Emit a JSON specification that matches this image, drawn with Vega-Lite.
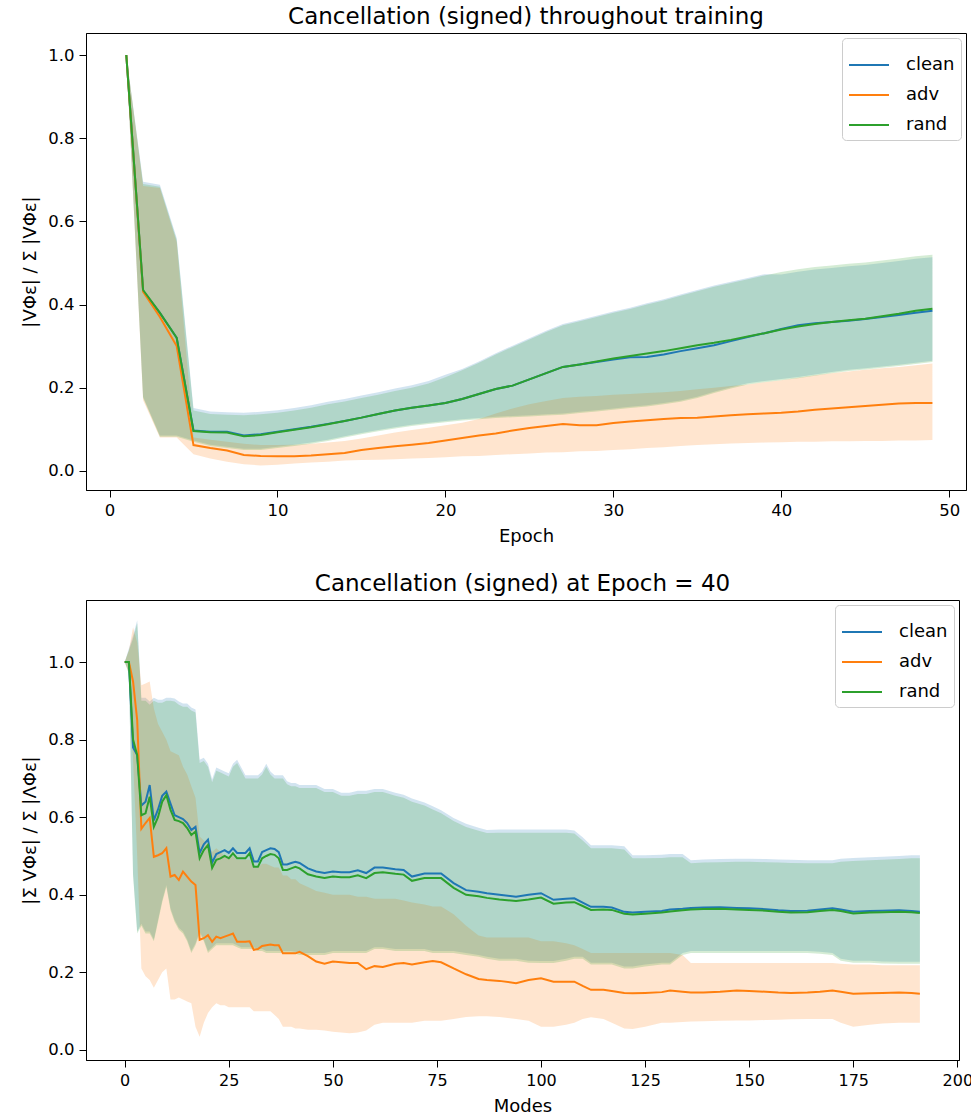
{
"$schema": "https://vega.github.io/schema/vega-lite/v6.json",
"background": "white",
"padding": {"left": 21, "top": 5, "right": 0, "bottom": 2},
"config": {
  "font": "DejaVu Sans",
  "view": {"stroke": "#000", "strokeWidth": 1},
  "axis": {"grid": false, "domainColor": "#000", "tickColor": "#000", "labelColor": "#000", "titleColor": "#000", "labelFontSize": 16.5, "titleFontSize": 18, "titleFontWeight": "normal", "tickSize": 7, "labelPadding": 5, "titlePadding": 8, "labelFont": "DejaVu Sans", "titleFont": "DejaVu Sans"},
  "axisX": {"titlePadding": 9},
  "title": {"fontSize": 23, "fontWeight": "normal", "color": "#000", "font": "DejaVu Sans", "offset": 4, "anchor": "middle", "frame": "group"},
  "legend": {"orient": "top-right", "offset": 5, "symbolType": "stroke", "symbolStrokeWidth": 2, "symbolSize": 1600, "symbolOpacity": 1, "labelFontSize": 18, "labelColor": "#000", "labelFont": "DejaVu Sans", "strokeColor": "#cccccc", "fillColor": "#ffffff", "padding": 6, "cornerRadius": 4, "rowPadding": 0, "labelOffset": 16}
},
"datasets": {
"top": [
{"epoch":1,"series":"clean","mean":1,"lower":1,"upper":1},
{"epoch":2,"series":"clean","mean":0.433,"lower":0.178,"upper":0.695},
{"epoch":3,"series":"clean","mean":0.38,"lower":0.085,"upper":0.688},
{"epoch":4,"series":"clean","mean":0.32,"lower":0.085,"upper":0.56},
{"epoch":5,"series":"clean","mean":0.097,"lower":0.073,"upper":0.151},
{"epoch":6,"series":"clean","mean":0.094,"lower":0.063,"upper":0.143},
{"epoch":7,"series":"clean","mean":0.094,"lower":0.058,"upper":0.141},
{"epoch":8,"series":"clean","mean":0.085,"lower":0.053,"upper":0.14},
{"epoch":9,"series":"clean","mean":0.088,"lower":0.053,"upper":0.142},
{"epoch":10,"series":"clean","mean":0.094,"lower":0.058,"upper":0.146},
{"epoch":11,"series":"clean","mean":0.1,"lower":0.063,"upper":0.151},
{"epoch":12,"series":"clean","mean":0.106,"lower":0.068,"upper":0.158},
{"epoch":13,"series":"clean","mean":0.113,"lower":0.075,"upper":0.166},
{"epoch":14,"series":"clean","mean":0.12,"lower":0.083,"upper":0.173},
{"epoch":15,"series":"clean","mean":0.128,"lower":0.091,"upper":0.181},
{"epoch":16,"series":"clean","mean":0.137,"lower":0.098,"upper":0.189},
{"epoch":17,"series":"clean","mean":0.145,"lower":0.105,"upper":0.198},
{"epoch":18,"series":"clean","mean":0.152,"lower":0.111,"upper":0.206},
{"epoch":19,"series":"clean","mean":0.157,"lower":0.116,"upper":0.216},
{"epoch":20,"series":"clean","mean":0.163,"lower":0.12,"upper":0.231},
{"epoch":21,"series":"clean","mean":0.173,"lower":0.124,"upper":0.245},
{"epoch":22,"series":"clean","mean":0.185,"lower":0.127,"upper":0.263},
{"epoch":23,"series":"clean","mean":0.197,"lower":0.13,"upper":0.283},
{"epoch":24,"series":"clean","mean":0.205,"lower":0.132,"upper":0.301},
{"epoch":25,"series":"clean","mean":0.22,"lower":0.134,"upper":0.319},
{"epoch":26,"series":"clean","mean":0.235,"lower":0.136,"upper":0.337},
{"epoch":27,"series":"clean","mean":0.25,"lower":0.138,"upper":0.353},
{"epoch":28,"series":"clean","mean":0.256,"lower":0.142,"upper":0.363},
{"epoch":29,"series":"clean","mean":0.262,"lower":0.146,"upper":0.373},
{"epoch":30,"series":"clean","mean":0.268,"lower":0.15,"upper":0.383},
{"epoch":31,"series":"clean","mean":0.273,"lower":0.154,"upper":0.392},
{"epoch":32,"series":"clean","mean":0.274,"lower":0.158,"upper":0.403},
{"epoch":33,"series":"clean","mean":0.28,"lower":0.163,"upper":0.413},
{"epoch":34,"series":"clean","mean":0.288,"lower":0.169,"upper":0.424},
{"epoch":35,"series":"clean","mean":0.295,"lower":0.178,"upper":0.435},
{"epoch":36,"series":"clean","mean":0.302,"lower":0.19,"upper":0.446},
{"epoch":37,"series":"clean","mean":0.312,"lower":0.201,"upper":0.455},
{"epoch":38,"series":"clean","mean":0.322,"lower":0.211,"upper":0.464},
{"epoch":39,"series":"clean","mean":0.331,"lower":0.216,"upper":0.473},
{"epoch":40,"series":"clean","mean":0.341,"lower":0.221,"upper":0.472},
{"epoch":41,"series":"clean","mean":0.35,"lower":0.226,"upper":0.479},
{"epoch":42,"series":"clean","mean":0.355,"lower":0.232,"upper":0.484},
{"epoch":43,"series":"clean","mean":0.358,"lower":0.238,"upper":0.488},
{"epoch":44,"series":"clean","mean":0.361,"lower":0.243,"upper":0.492},
{"epoch":45,"series":"clean","mean":0.365,"lower":0.247,"upper":0.495},
{"epoch":46,"series":"clean","mean":0.37,"lower":0.251,"upper":0.5},
{"epoch":47,"series":"clean","mean":0.375,"lower":0.255,"upper":0.505},
{"epoch":48,"series":"clean","mean":0.38,"lower":0.26,"upper":0.51},
{"epoch":49,"series":"clean","mean":0.385,"lower":0.265,"upper":0.514},
{"epoch":1,"series":"adv","mean":1,"lower":1,"upper":1},
{"epoch":2,"series":"adv","mean":0.431,"lower":0.17,"upper":0.685},
{"epoch":3,"series":"adv","mean":0.37,"lower":0.08,"upper":0.68},
{"epoch":4,"series":"adv","mean":0.3,"lower":0.08,"upper":0.55},
{"epoch":5,"series":"adv","mean":0.062,"lower":0.04,"upper":0.08},
{"epoch":6,"series":"adv","mean":0.055,"lower":0.03,"upper":0.075},
{"epoch":7,"series":"adv","mean":0.049,"lower":0.022,"upper":0.07},
{"epoch":8,"series":"adv","mean":0.038,"lower":0.016,"upper":0.065},
{"epoch":9,"series":"adv","mean":0.036,"lower":0.013,"upper":0.062},
{"epoch":10,"series":"adv","mean":0.035,"lower":0.015,"upper":0.062},
{"epoch":11,"series":"adv","mean":0.035,"lower":0.018,"upper":0.063},
{"epoch":12,"series":"adv","mean":0.037,"lower":0.02,"upper":0.065},
{"epoch":13,"series":"adv","mean":0.04,"lower":0.022,"upper":0.068},
{"epoch":14,"series":"adv","mean":0.043,"lower":0.025,"upper":0.072},
{"epoch":15,"series":"adv","mean":0.05,"lower":0.026,"upper":0.078},
{"epoch":16,"series":"adv","mean":0.055,"lower":0.027,"upper":0.085},
{"epoch":17,"series":"adv","mean":0.059,"lower":0.028,"upper":0.092},
{"epoch":18,"series":"adv","mean":0.063,"lower":0.03,"upper":0.098},
{"epoch":19,"series":"adv","mean":0.067,"lower":0.031,"upper":0.104},
{"epoch":20,"series":"adv","mean":0.073,"lower":0.033,"upper":0.11},
{"epoch":21,"series":"adv","mean":0.079,"lower":0.035,"upper":0.116},
{"epoch":22,"series":"adv","mean":0.085,"lower":0.036,"upper":0.125},
{"epoch":23,"series":"adv","mean":0.09,"lower":0.038,"upper":0.138},
{"epoch":24,"series":"adv","mean":0.097,"lower":0.04,"upper":0.15},
{"epoch":25,"series":"adv","mean":0.103,"lower":0.042,"upper":0.16},
{"epoch":26,"series":"adv","mean":0.108,"lower":0.044,"upper":0.168},
{"epoch":27,"series":"adv","mean":0.113,"lower":0.045,"upper":0.175},
{"epoch":28,"series":"adv","mean":0.11,"lower":0.047,"upper":0.178},
{"epoch":29,"series":"adv","mean":0.11,"lower":0.048,"upper":0.18},
{"epoch":30,"series":"adv","mean":0.115,"lower":0.05,"upper":0.183},
{"epoch":31,"series":"adv","mean":0.119,"lower":0.052,"upper":0.185},
{"epoch":32,"series":"adv","mean":0.122,"lower":0.055,"upper":0.187},
{"epoch":33,"series":"adv","mean":0.125,"lower":0.057,"upper":0.189},
{"epoch":34,"series":"adv","mean":0.127,"lower":0.06,"upper":0.192},
{"epoch":35,"series":"adv","mean":0.128,"lower":0.062,"upper":0.196},
{"epoch":36,"series":"adv","mean":0.131,"lower":0.064,"upper":0.2},
{"epoch":37,"series":"adv","mean":0.134,"lower":0.066,"upper":0.204},
{"epoch":38,"series":"adv","mean":0.136,"lower":0.067,"upper":0.208},
{"epoch":39,"series":"adv","mean":0.138,"lower":0.068,"upper":0.213},
{"epoch":40,"series":"adv","mean":0.14,"lower":0.069,"upper":0.218},
{"epoch":41,"series":"adv","mean":0.143,"lower":0.07,"upper":0.224},
{"epoch":42,"series":"adv","mean":0.147,"lower":0.07,"upper":0.23},
{"epoch":43,"series":"adv","mean":0.15,"lower":0.071,"upper":0.235},
{"epoch":44,"series":"adv","mean":0.153,"lower":0.071,"upper":0.239},
{"epoch":45,"series":"adv","mean":0.156,"lower":0.072,"upper":0.243},
{"epoch":46,"series":"adv","mean":0.159,"lower":0.072,"upper":0.247},
{"epoch":47,"series":"adv","mean":0.162,"lower":0.073,"upper":0.25},
{"epoch":48,"series":"adv","mean":0.163,"lower":0.073,"upper":0.254},
{"epoch":49,"series":"adv","mean":0.163,"lower":0.074,"upper":0.258},
{"epoch":1,"series":"rand","mean":1,"lower":1,"upper":1},
{"epoch":2,"series":"rand","mean":0.435,"lower":0.175,"upper":0.69},
{"epoch":3,"series":"rand","mean":0.38,"lower":0.082,"upper":0.683},
{"epoch":4,"series":"rand","mean":0.32,"lower":0.082,"upper":0.555},
{"epoch":5,"series":"rand","mean":0.096,"lower":0.07,"upper":0.145},
{"epoch":6,"series":"rand","mean":0.093,"lower":0.06,"upper":0.137},
{"epoch":7,"series":"rand","mean":0.092,"lower":0.055,"upper":0.135},
{"epoch":8,"series":"rand","mean":0.083,"lower":0.05,"upper":0.134},
{"epoch":9,"series":"rand","mean":0.086,"lower":0.05,"upper":0.136},
{"epoch":10,"series":"rand","mean":0.093,"lower":0.055,"upper":0.14},
{"epoch":11,"series":"rand","mean":0.099,"lower":0.06,"upper":0.145},
{"epoch":12,"series":"rand","mean":0.105,"lower":0.065,"upper":0.152},
{"epoch":13,"series":"rand","mean":0.112,"lower":0.072,"upper":0.16},
{"epoch":14,"series":"rand","mean":0.12,"lower":0.08,"upper":0.167},
{"epoch":15,"series":"rand","mean":0.128,"lower":0.088,"upper":0.175},
{"epoch":16,"series":"rand","mean":0.137,"lower":0.095,"upper":0.183},
{"epoch":17,"series":"rand","mean":0.145,"lower":0.102,"upper":0.192},
{"epoch":18,"series":"rand","mean":0.152,"lower":0.108,"upper":0.2},
{"epoch":19,"series":"rand","mean":0.157,"lower":0.113,"upper":0.21},
{"epoch":20,"series":"rand","mean":0.163,"lower":0.117,"upper":0.225},
{"epoch":21,"series":"rand","mean":0.173,"lower":0.121,"upper":0.242},
{"epoch":22,"series":"rand","mean":0.185,"lower":0.124,"upper":0.26},
{"epoch":23,"series":"rand","mean":0.197,"lower":0.127,"upper":0.28},
{"epoch":24,"series":"rand","mean":0.205,"lower":0.129,"upper":0.298},
{"epoch":25,"series":"rand","mean":0.22,"lower":0.131,"upper":0.316},
{"epoch":26,"series":"rand","mean":0.235,"lower":0.133,"upper":0.334},
{"epoch":27,"series":"rand","mean":0.25,"lower":0.135,"upper":0.35},
{"epoch":28,"series":"rand","mean":0.256,"lower":0.139,"upper":0.36},
{"epoch":29,"series":"rand","mean":0.263,"lower":0.143,"upper":0.37},
{"epoch":30,"series":"rand","mean":0.27,"lower":0.147,"upper":0.38},
{"epoch":31,"series":"rand","mean":0.276,"lower":0.151,"upper":0.389},
{"epoch":32,"series":"rand","mean":0.282,"lower":0.155,"upper":0.4},
{"epoch":33,"series":"rand","mean":0.288,"lower":0.16,"upper":0.41},
{"epoch":34,"series":"rand","mean":0.295,"lower":0.166,"upper":0.421},
{"epoch":35,"series":"rand","mean":0.302,"lower":0.175,"upper":0.432},
{"epoch":36,"series":"rand","mean":0.308,"lower":0.187,"upper":0.443},
{"epoch":37,"series":"rand","mean":0.315,"lower":0.198,"upper":0.452},
{"epoch":38,"series":"rand","mean":0.323,"lower":0.208,"upper":0.461},
{"epoch":39,"series":"rand","mean":0.331,"lower":0.213,"upper":0.47},
{"epoch":40,"series":"rand","mean":0.34,"lower":0.218,"upper":0.478},
{"epoch":41,"series":"rand","mean":0.347,"lower":0.223,"upper":0.485},
{"epoch":42,"series":"rand","mean":0.353,"lower":0.229,"upper":0.49},
{"epoch":43,"series":"rand","mean":0.358,"lower":0.235,"upper":0.494},
{"epoch":44,"series":"rand","mean":0.362,"lower":0.24,"upper":0.498},
{"epoch":45,"series":"rand","mean":0.366,"lower":0.244,"upper":0.501},
{"epoch":46,"series":"rand","mean":0.372,"lower":0.248,"upper":0.506},
{"epoch":47,"series":"rand","mean":0.378,"lower":0.252,"upper":0.511},
{"epoch":48,"series":"rand","mean":0.385,"lower":0.257,"upper":0.516},
{"epoch":49,"series":"rand","mean":0.39,"lower":0.262,"upper":0.52}
],
"bottom": [
{"mode":0,"series":"clean","mean":1,"lower":1,"upper":1},
{"mode":1,"series":"clean","mean":1,"lower":0.975,"upper":1.035},
{"mode":2,"series":"clean","mean":0.78,"lower":0.455,"upper":1.068},
{"mode":3,"series":"clean","mean":0.76,"lower":0.305,"upper":1.108},
{"mode":4,"series":"clean","mean":0.63,"lower":0.325,"upper":0.908},
{"mode":5,"series":"clean","mean":0.64,"lower":0.305,"upper":0.908},
{"mode":6,"series":"clean","mean":0.683,"lower":0.305,"upper":0.898},
{"mode":7,"series":"clean","mean":0.592,"lower":0.285,"upper":0.908},
{"mode":8,"series":"clean","mean":0.62,"lower":0.335,"upper":0.903},
{"mode":9,"series":"clean","mean":0.655,"lower":0.385,"upper":0.903},
{"mode":10,"series":"clean","mean":0.666,"lower":0.425,"upper":0.908},
{"mode":11,"series":"clean","mean":0.635,"lower":0.365,"upper":0.908},
{"mode":12,"series":"clean","mean":0.605,"lower":0.335,"upper":0.906},
{"mode":13,"series":"clean","mean":0.6,"lower":0.315,"upper":0.898},
{"mode":14,"series":"clean","mean":0.595,"lower":0.305,"upper":0.893},
{"mode":15,"series":"clean","mean":0.585,"lower":0.285,"upper":0.893},
{"mode":16,"series":"clean","mean":0.567,"lower":0.255,"upper":0.883},
{"mode":17,"series":"clean","mean":0.575,"lower":0.275,"upper":0.878},
{"mode":18,"series":"clean","mean":0.508,"lower":0.305,"upper":0.748},
{"mode":19,"series":"clean","mean":0.53,"lower":0.285,"upper":0.753},
{"mode":20,"series":"clean","mean":0.542,"lower":0.255,"upper":0.738},
{"mode":21,"series":"clean","mean":0.483,"lower":0.265,"upper":0.698},
{"mode":22,"series":"clean","mean":0.505,"lower":0.275,"upper":0.728},
{"mode":23,"series":"clean","mean":0.51,"lower":0.275,"upper":0.723},
{"mode":24,"series":"clean","mean":0.515,"lower":0.275,"upper":0.718},
{"mode":25,"series":"clean","mean":0.508,"lower":0.275,"upper":0.713},
{"mode":26,"series":"clean","mean":0.52,"lower":0.275,"upper":0.738},
{"mode":27,"series":"clean","mean":0.508,"lower":0.27,"upper":0.748},
{"mode":28,"series":"clean","mean":0.508,"lower":0.265,"upper":0.728},
{"mode":29,"series":"clean","mean":0.508,"lower":0.265,"upper":0.708},
{"mode":30,"series":"clean","mean":0.52,"lower":0.265,"upper":0.708},
{"mode":31,"series":"clean","mean":0.486,"lower":0.265,"upper":0.708},
{"mode":32,"series":"clean","mean":0.486,"lower":0.26,"upper":0.708},
{"mode":33,"series":"clean","mean":0.51,"lower":0.26,"upper":0.718},
{"mode":34,"series":"clean","mean":0.515,"lower":0.255,"upper":0.738},
{"mode":35,"series":"clean","mean":0.52,"lower":0.255,"upper":0.718},
{"mode":36,"series":"clean","mean":0.518,"lower":0.255,"upper":0.708},
{"mode":37,"series":"clean","mean":0.51,"lower":0.255,"upper":0.708},
{"mode":38,"series":"clean","mean":0.478,"lower":0.255,"upper":0.708},
{"mode":39,"series":"clean","mean":0.478,"lower":0.255,"upper":0.693},
{"mode":40,"series":"clean","mean":0.482,"lower":0.255,"upper":0.688},
{"mode":41,"series":"clean","mean":0.485,"lower":0.253,"upper":0.688},
{"mode":42,"series":"clean","mean":0.482,"lower":0.25,"upper":0.683},
{"mode":44,"series":"clean","mean":0.468,"lower":0.25,"upper":0.683},
{"mode":46,"series":"clean","mean":0.46,"lower":0.25,"upper":0.683},
{"mode":48,"series":"clean","mean":0.456,"lower":0.25,"upper":0.673},
{"mode":50,"series":"clean","mean":0.46,"lower":0.255,"upper":0.673},
{"mode":52,"series":"clean","mean":0.458,"lower":0.255,"upper":0.663},
{"mode":54,"series":"clean","mean":0.458,"lower":0.255,"upper":0.663},
{"mode":56,"series":"clean","mean":0.463,"lower":0.255,"upper":0.668},
{"mode":58,"series":"clean","mean":0.456,"lower":0.255,"upper":0.668},
{"mode":60,"series":"clean","mean":0.47,"lower":0.265,"upper":0.673},
{"mode":62,"series":"clean","mean":0.47,"lower":0.265,"upper":0.673},
{"mode":65,"series":"clean","mean":0.466,"lower":0.26,"upper":0.663},
{"mode":67,"series":"clean","mean":0.464,"lower":0.26,"upper":0.658},
{"mode":69,"series":"clean","mean":0.447,"lower":0.26,"upper":0.648},
{"mode":72,"series":"clean","mean":0.455,"lower":0.26,"upper":0.638},
{"mode":74,"series":"clean","mean":0.455,"lower":0.255,"upper":0.628},
{"mode":76,"series":"clean","mean":0.455,"lower":0.255,"upper":0.618},
{"mode":79,"series":"clean","mean":0.43,"lower":0.255,"upper":0.598},
{"mode":82,"series":"clean","mean":0.412,"lower":0.25,"upper":0.583},
{"mode":85,"series":"clean","mean":0.408,"lower":0.245,"upper":0.573},
{"mode":87,"series":"clean","mean":0.404,"lower":0.24,"upper":0.567},
{"mode":90,"series":"clean","mean":0.4,"lower":0.235,"upper":0.568},
{"mode":94,"series":"clean","mean":0.395,"lower":0.235,"upper":0.568},
{"mode":97,"series":"clean","mean":0.4,"lower":0.23,"upper":0.568},
{"mode":100,"series":"clean","mean":0.404,"lower":0.229,"upper":0.568},
{"mode":103,"series":"clean","mean":0.387,"lower":0.229,"upper":0.568},
{"mode":106,"series":"clean","mean":0.39,"lower":0.235,"upper":0.568},
{"mode":108,"series":"clean","mean":0.391,"lower":0.24,"upper":0.566},
{"mode":110,"series":"clean","mean":0.38,"lower":0.24,"upper":0.548},
{"mode":112,"series":"clean","mean":0.369,"lower":0.225,"upper":0.528},
{"mode":115,"series":"clean","mean":0.369,"lower":0.225,"upper":0.528},
{"mode":117,"series":"clean","mean":0.367,"lower":0.225,"upper":0.528},
{"mode":120,"series":"clean","mean":0.356,"lower":0.215,"upper":0.525},
{"mode":122,"series":"clean","mean":0.354,"lower":0.215,"upper":0.502},
{"mode":125,"series":"clean","mean":0.356,"lower":0.22,"upper":0.502},
{"mode":129,"series":"clean","mean":0.358,"lower":0.225,"upper":0.503},
{"mode":131,"series":"clean","mean":0.362,"lower":0.225,"upper":0.505},
{"mode":134,"series":"clean","mean":0.364,"lower":0.25,"upper":0.505},
{"mode":136,"series":"clean","mean":0.366,"lower":0.255,"upper":0.489},
{"mode":139,"series":"clean","mean":0.367,"lower":0.255,"upper":0.491},
{"mode":143,"series":"clean","mean":0.368,"lower":0.255,"upper":0.492},
{"mode":147,"series":"clean","mean":0.366,"lower":0.255,"upper":0.493},
{"mode":150,"series":"clean","mean":0.365,"lower":0.255,"upper":0.493},
{"mode":154,"series":"clean","mean":0.363,"lower":0.255,"upper":0.492},
{"mode":157,"series":"clean","mean":0.36,"lower":0.255,"upper":0.491},
{"mode":160,"series":"clean","mean":0.358,"lower":0.255,"upper":0.49},
{"mode":164,"series":"clean","mean":0.359,"lower":0.255,"upper":0.489},
{"mode":167,"series":"clean","mean":0.362,"lower":0.253,"upper":0.489},
{"mode":170,"series":"clean","mean":0.365,"lower":0.25,"upper":0.489},
{"mode":172,"series":"clean","mean":0.362,"lower":0.235,"upper":0.493},
{"mode":175,"series":"clean","mean":0.356,"lower":0.23,"upper":0.495},
{"mode":179,"series":"clean","mean":0.358,"lower":0.23,"upper":0.497},
{"mode":182,"series":"clean","mean":0.359,"lower":0.228,"upper":0.498},
{"mode":186,"series":"clean","mean":0.36,"lower":0.227,"upper":0.5},
{"mode":189,"series":"clean","mean":0.358,"lower":0.227,"upper":0.502},
{"mode":191,"series":"clean","mean":0.356,"lower":0.227,"upper":0.502},
{"mode":0,"series":"adv","mean":1,"lower":1,"upper":1},
{"mode":1,"series":"adv","mean":1,"lower":0.97,"upper":1.03},
{"mode":2,"series":"adv","mean":0.95,"lower":0.75,"upper":1.09},
{"mode":3,"series":"adv","mean":0.85,"lower":0.5,"upper":1.05},
{"mode":4,"series":"adv","mean":0.57,"lower":0.21,"upper":0.94},
{"mode":5,"series":"adv","mean":0.585,"lower":0.19,"upper":0.945},
{"mode":6,"series":"adv","mean":0.598,"lower":0.18,"upper":0.95},
{"mode":7,"series":"adv","mean":0.498,"lower":0.16,"upper":0.88},
{"mode":8,"series":"adv","mean":0.502,"lower":0.18,"upper":0.84},
{"mode":9,"series":"adv","mean":0.507,"lower":0.2,"upper":0.82},
{"mode":10,"series":"adv","mean":0.52,"lower":0.21,"upper":0.8},
{"mode":11,"series":"adv","mean":0.447,"lower":0.13,"upper":0.77},
{"mode":12,"series":"adv","mean":0.451,"lower":0.13,"upper":0.765},
{"mode":13,"series":"adv","mean":0.438,"lower":0.135,"upper":0.76},
{"mode":14,"series":"adv","mean":0.46,"lower":0.13,"upper":0.73},
{"mode":15,"series":"adv","mean":0.447,"lower":0.125,"upper":0.71},
{"mode":16,"series":"adv","mean":0.434,"lower":0.12,"upper":0.68},
{"mode":17,"series":"adv","mean":0.425,"lower":0.06,"upper":0.65},
{"mode":18,"series":"adv","mean":0.284,"lower":0.034,"upper":0.55},
{"mode":19,"series":"adv","mean":0.288,"lower":0.07,"upper":0.54},
{"mode":20,"series":"adv","mean":0.296,"lower":0.095,"upper":0.53},
{"mode":21,"series":"adv","mean":0.279,"lower":0.11,"upper":0.51},
{"mode":22,"series":"adv","mean":0.292,"lower":0.12,"upper":0.52},
{"mode":23,"series":"adv","mean":0.288,"lower":0.115,"upper":0.51},
{"mode":24,"series":"adv","mean":0.292,"lower":0.115,"upper":0.5},
{"mode":25,"series":"adv","mean":0.296,"lower":0.11,"upper":0.5},
{"mode":26,"series":"adv","mean":0.3,"lower":0.11,"upper":0.5},
{"mode":27,"series":"adv","mean":0.279,"lower":0.11,"upper":0.49},
{"mode":28,"series":"adv","mean":0.279,"lower":0.11,"upper":0.49},
{"mode":29,"series":"adv","mean":0.279,"lower":0.11,"upper":0.49},
{"mode":30,"series":"adv","mean":0.28,"lower":0.11,"upper":0.49},
{"mode":31,"series":"adv","mean":0.258,"lower":0.1,"upper":0.47},
{"mode":32,"series":"adv","mean":0.26,"lower":0.1,"upper":0.47},
{"mode":33,"series":"adv","mean":0.268,"lower":0.1,"upper":0.48},
{"mode":34,"series":"adv","mean":0.27,"lower":0.1,"upper":0.48},
{"mode":35,"series":"adv","mean":0.272,"lower":0.1,"upper":0.475},
{"mode":36,"series":"adv","mean":0.27,"lower":0.09,"upper":0.47},
{"mode":37,"series":"adv","mean":0.27,"lower":0.08,"upper":0.47},
{"mode":38,"series":"adv","mean":0.249,"lower":0.06,"upper":0.45},
{"mode":39,"series":"adv","mean":0.249,"lower":0.06,"upper":0.45},
{"mode":40,"series":"adv","mean":0.249,"lower":0.06,"upper":0.44},
{"mode":41,"series":"adv","mean":0.249,"lower":0.055,"upper":0.44},
{"mode":42,"series":"adv","mean":0.253,"lower":0.055,"upper":0.43},
{"mode":44,"series":"adv","mean":0.242,"lower":0.052,"upper":0.42},
{"mode":46,"series":"adv","mean":0.228,"lower":0.052,"upper":0.41},
{"mode":48,"series":"adv","mean":0.222,"lower":0.05,"upper":0.405},
{"mode":50,"series":"adv","mean":0.228,"lower":0.047,"upper":0.4},
{"mode":52,"series":"adv","mean":0.226,"lower":0.045,"upper":0.4},
{"mode":54,"series":"adv","mean":0.224,"lower":0.043,"upper":0.4},
{"mode":56,"series":"adv","mean":0.224,"lower":0.045,"upper":0.395},
{"mode":58,"series":"adv","mean":0.208,"lower":0.05,"upper":0.395},
{"mode":60,"series":"adv","mean":0.216,"lower":0.065,"upper":0.39},
{"mode":62,"series":"adv","mean":0.214,"lower":0.07,"upper":0.39},
{"mode":65,"series":"adv","mean":0.222,"lower":0.07,"upper":0.39},
{"mode":67,"series":"adv","mean":0.224,"lower":0.07,"upper":0.385},
{"mode":69,"series":"adv","mean":0.22,"lower":0.07,"upper":0.38},
{"mode":72,"series":"adv","mean":0.226,"lower":0.075,"upper":0.375},
{"mode":74,"series":"adv","mean":0.229,"lower":0.075,"upper":0.37},
{"mode":76,"series":"adv","mean":0.226,"lower":0.075,"upper":0.37},
{"mode":79,"series":"adv","mean":0.21,"lower":0.08,"upper":0.35},
{"mode":82,"series":"adv","mean":0.195,"lower":0.085,"upper":0.32},
{"mode":85,"series":"adv","mean":0.183,"lower":0.087,"upper":0.295},
{"mode":87,"series":"adv","mean":0.18,"lower":0.087,"upper":0.29},
{"mode":90,"series":"adv","mean":0.178,"lower":0.085,"upper":0.29},
{"mode":94,"series":"adv","mean":0.172,"lower":0.08,"upper":0.29},
{"mode":97,"series":"adv","mean":0.18,"lower":0.075,"upper":0.29},
{"mode":100,"series":"adv","mean":0.185,"lower":0.06,"upper":0.28},
{"mode":103,"series":"adv","mean":0.176,"lower":0.06,"upper":0.28},
{"mode":106,"series":"adv","mean":0.176,"lower":0.065,"upper":0.275},
{"mode":108,"series":"adv","mean":0.176,"lower":0.07,"upper":0.27},
{"mode":110,"series":"adv","mean":0.165,"lower":0.08,"upper":0.26},
{"mode":112,"series":"adv","mean":0.155,"lower":0.084,"upper":0.25},
{"mode":115,"series":"adv","mean":0.155,"lower":0.08,"upper":0.25},
{"mode":117,"series":"adv","mean":0.152,"lower":0.07,"upper":0.25},
{"mode":120,"series":"adv","mean":0.147,"lower":0.055,"upper":0.25},
{"mode":122,"series":"adv","mean":0.146,"lower":0.054,"upper":0.25},
{"mode":125,"series":"adv","mean":0.147,"lower":0.06,"upper":0.25},
{"mode":129,"series":"adv","mean":0.149,"lower":0.07,"upper":0.25},
{"mode":131,"series":"adv","mean":0.153,"lower":0.07,"upper":0.25},
{"mode":134,"series":"adv","mean":0.15,"lower":0.072,"upper":0.245},
{"mode":136,"series":"adv","mean":0.148,"lower":0.073,"upper":0.224},
{"mode":139,"series":"adv","mean":0.148,"lower":0.074,"upper":0.224},
{"mode":143,"series":"adv","mean":0.15,"lower":0.075,"upper":0.224},
{"mode":147,"series":"adv","mean":0.153,"lower":0.076,"upper":0.224},
{"mode":150,"series":"adv","mean":0.152,"lower":0.076,"upper":0.224},
{"mode":154,"series":"adv","mean":0.15,"lower":0.077,"upper":0.224},
{"mode":157,"series":"adv","mean":0.148,"lower":0.078,"upper":0.224},
{"mode":160,"series":"adv","mean":0.147,"lower":0.079,"upper":0.224},
{"mode":164,"series":"adv","mean":0.148,"lower":0.08,"upper":0.224},
{"mode":167,"series":"adv","mean":0.15,"lower":0.08,"upper":0.224},
{"mode":170,"series":"adv","mean":0.153,"lower":0.08,"upper":0.224},
{"mode":172,"series":"adv","mean":0.15,"lower":0.07,"upper":0.222},
{"mode":175,"series":"adv","mean":0.145,"lower":0.06,"upper":0.22},
{"mode":179,"series":"adv","mean":0.146,"lower":0.065,"upper":0.22},
{"mode":182,"series":"adv","mean":0.147,"lower":0.068,"upper":0.218},
{"mode":186,"series":"adv","mean":0.148,"lower":0.07,"upper":0.218},
{"mode":189,"series":"adv","mean":0.147,"lower":0.07,"upper":0.218},
{"mode":191,"series":"adv","mean":0.145,"lower":0.07,"upper":0.218},
{"mode":0,"series":"rand","mean":1,"lower":1,"upper":1},
{"mode":1,"series":"rand","mean":1,"lower":0.97,"upper":1.03},
{"mode":2,"series":"rand","mean":0.8,"lower":0.45,"upper":1.06},
{"mode":3,"series":"rand","mean":0.76,"lower":0.3,"upper":1.1},
{"mode":4,"series":"rand","mean":0.605,"lower":0.32,"upper":0.9},
{"mode":5,"series":"rand","mean":0.61,"lower":0.3,"upper":0.9},
{"mode":6,"series":"rand","mean":0.653,"lower":0.3,"upper":0.89},
{"mode":7,"series":"rand","mean":0.575,"lower":0.28,"upper":0.9},
{"mode":8,"series":"rand","mean":0.6,"lower":0.33,"upper":0.895},
{"mode":9,"series":"rand","mean":0.64,"lower":0.38,"upper":0.895},
{"mode":10,"series":"rand","mean":0.657,"lower":0.42,"upper":0.9},
{"mode":11,"series":"rand","mean":0.619,"lower":0.36,"upper":0.9},
{"mode":12,"series":"rand","mean":0.593,"lower":0.33,"upper":0.898},
{"mode":13,"series":"rand","mean":0.59,"lower":0.31,"upper":0.89},
{"mode":14,"series":"rand","mean":0.585,"lower":0.3,"upper":0.885},
{"mode":15,"series":"rand","mean":0.572,"lower":0.28,"upper":0.885},
{"mode":16,"series":"rand","mean":0.554,"lower":0.25,"upper":0.875},
{"mode":17,"series":"rand","mean":0.563,"lower":0.27,"upper":0.87},
{"mode":18,"series":"rand","mean":0.494,"lower":0.3,"upper":0.74},
{"mode":19,"series":"rand","mean":0.515,"lower":0.28,"upper":0.745},
{"mode":20,"series":"rand","mean":0.528,"lower":0.25,"upper":0.73},
{"mode":21,"series":"rand","mean":0.469,"lower":0.26,"upper":0.69},
{"mode":22,"series":"rand","mean":0.49,"lower":0.27,"upper":0.72},
{"mode":23,"series":"rand","mean":0.494,"lower":0.27,"upper":0.715},
{"mode":24,"series":"rand","mean":0.5,"lower":0.27,"upper":0.71},
{"mode":25,"series":"rand","mean":0.494,"lower":0.27,"upper":0.705},
{"mode":26,"series":"rand","mean":0.507,"lower":0.27,"upper":0.73},
{"mode":27,"series":"rand","mean":0.494,"lower":0.265,"upper":0.74},
{"mode":28,"series":"rand","mean":0.494,"lower":0.26,"upper":0.72},
{"mode":29,"series":"rand","mean":0.494,"lower":0.26,"upper":0.7},
{"mode":30,"series":"rand","mean":0.507,"lower":0.26,"upper":0.7},
{"mode":31,"series":"rand","mean":0.472,"lower":0.26,"upper":0.7},
{"mode":32,"series":"rand","mean":0.472,"lower":0.255,"upper":0.7},
{"mode":33,"series":"rand","mean":0.494,"lower":0.255,"upper":0.71},
{"mode":34,"series":"rand","mean":0.5,"lower":0.25,"upper":0.73},
{"mode":35,"series":"rand","mean":0.505,"lower":0.25,"upper":0.71},
{"mode":36,"series":"rand","mean":0.503,"lower":0.25,"upper":0.7},
{"mode":37,"series":"rand","mean":0.494,"lower":0.25,"upper":0.7},
{"mode":38,"series":"rand","mean":0.464,"lower":0.25,"upper":0.7},
{"mode":39,"series":"rand","mean":0.464,"lower":0.25,"upper":0.685},
{"mode":40,"series":"rand","mean":0.468,"lower":0.25,"upper":0.68},
{"mode":41,"series":"rand","mean":0.472,"lower":0.248,"upper":0.68},
{"mode":42,"series":"rand","mean":0.468,"lower":0.245,"upper":0.675},
{"mode":44,"series":"rand","mean":0.453,"lower":0.245,"upper":0.675},
{"mode":46,"series":"rand","mean":0.447,"lower":0.245,"upper":0.675},
{"mode":48,"series":"rand","mean":0.443,"lower":0.245,"upper":0.665},
{"mode":50,"series":"rand","mean":0.447,"lower":0.25,"upper":0.665},
{"mode":52,"series":"rand","mean":0.445,"lower":0.25,"upper":0.655},
{"mode":54,"series":"rand","mean":0.445,"lower":0.25,"upper":0.655},
{"mode":56,"series":"rand","mean":0.45,"lower":0.25,"upper":0.66},
{"mode":58,"series":"rand","mean":0.443,"lower":0.25,"upper":0.66},
{"mode":60,"series":"rand","mean":0.456,"lower":0.26,"upper":0.665},
{"mode":62,"series":"rand","mean":0.458,"lower":0.26,"upper":0.665},
{"mode":65,"series":"rand","mean":0.454,"lower":0.255,"upper":0.655},
{"mode":67,"series":"rand","mean":0.452,"lower":0.255,"upper":0.65},
{"mode":69,"series":"rand","mean":0.436,"lower":0.255,"upper":0.64},
{"mode":72,"series":"rand","mean":0.443,"lower":0.255,"upper":0.63},
{"mode":74,"series":"rand","mean":0.443,"lower":0.25,"upper":0.62},
{"mode":76,"series":"rand","mean":0.443,"lower":0.25,"upper":0.61},
{"mode":79,"series":"rand","mean":0.418,"lower":0.25,"upper":0.59},
{"mode":82,"series":"rand","mean":0.4,"lower":0.245,"upper":0.575},
{"mode":85,"series":"rand","mean":0.396,"lower":0.24,"upper":0.565},
{"mode":87,"series":"rand","mean":0.392,"lower":0.235,"upper":0.559},
{"mode":90,"series":"rand","mean":0.388,"lower":0.23,"upper":0.56},
{"mode":94,"series":"rand","mean":0.384,"lower":0.23,"upper":0.56},
{"mode":97,"series":"rand","mean":0.388,"lower":0.225,"upper":0.56},
{"mode":100,"series":"rand","mean":0.393,"lower":0.224,"upper":0.56},
{"mode":103,"series":"rand","mean":0.377,"lower":0.224,"upper":0.56},
{"mode":106,"series":"rand","mean":0.38,"lower":0.23,"upper":0.56},
{"mode":108,"series":"rand","mean":0.381,"lower":0.235,"upper":0.558},
{"mode":110,"series":"rand","mean":0.371,"lower":0.235,"upper":0.54},
{"mode":112,"series":"rand","mean":0.361,"lower":0.22,"upper":0.52},
{"mode":115,"series":"rand","mean":0.362,"lower":0.22,"upper":0.52},
{"mode":117,"series":"rand","mean":0.361,"lower":0.22,"upper":0.52},
{"mode":120,"series":"rand","mean":0.351,"lower":0.21,"upper":0.517},
{"mode":122,"series":"rand","mean":0.349,"lower":0.21,"upper":0.494},
{"mode":125,"series":"rand","mean":0.351,"lower":0.215,"upper":0.494},
{"mode":129,"series":"rand","mean":0.354,"lower":0.22,"upper":0.495},
{"mode":131,"series":"rand","mean":0.357,"lower":0.22,"upper":0.497},
{"mode":134,"series":"rand","mean":0.36,"lower":0.245,"upper":0.497},
{"mode":136,"series":"rand","mean":0.362,"lower":0.25,"upper":0.481},
{"mode":139,"series":"rand","mean":0.363,"lower":0.25,"upper":0.483},
{"mode":143,"series":"rand","mean":0.364,"lower":0.25,"upper":0.484},
{"mode":147,"series":"rand","mean":0.362,"lower":0.25,"upper":0.485},
{"mode":150,"series":"rand","mean":0.361,"lower":0.25,"upper":0.485},
{"mode":154,"series":"rand","mean":0.359,"lower":0.25,"upper":0.484},
{"mode":157,"series":"rand","mean":0.356,"lower":0.25,"upper":0.483},
{"mode":160,"series":"rand","mean":0.354,"lower":0.25,"upper":0.482},
{"mode":164,"series":"rand","mean":0.355,"lower":0.25,"upper":0.481},
{"mode":167,"series":"rand","mean":0.358,"lower":0.248,"upper":0.481},
{"mode":170,"series":"rand","mean":0.361,"lower":0.245,"upper":0.481},
{"mode":172,"series":"rand","mean":0.358,"lower":0.23,"upper":0.485},
{"mode":175,"series":"rand","mean":0.352,"lower":0.225,"upper":0.487},
{"mode":179,"series":"rand","mean":0.354,"lower":0.225,"upper":0.489},
{"mode":182,"series":"rand","mean":0.355,"lower":0.223,"upper":0.49},
{"mode":186,"series":"rand","mean":0.356,"lower":0.222,"upper":0.492},
{"mode":189,"series":"rand","mean":0.355,"lower":0.222,"upper":0.494},
{"mode":191,"series":"rand","mean":0.353,"lower":0.222,"upper":0.494}
]
},
"concat": [
{
  "title": "Cancellation (signed) throughout training",
  "width": 880,
  "height": 457,
  "data": {"name": "top"},
  "encoding": {
    "x": {"field": "epoch", "type": "quantitative", "scale": {"domain": [-1.4, 51.0], "nice": false, "zero": false}, "axis": {"title": "Epoch", "values": [0, 10, 20, 30, 40, 50]}},
    "color": {"field": "series", "type": "nominal", "sort": ["clean", "adv", "rand"], "scale": {"domain": ["clean", "adv", "rand"], "range": ["#1f77b4", "#ff7f0e", "#2ca02c"]}, "legend": {"title": null}}
  },
  "layer": [
    {"mark": {"type": "area", "opacity": 0.2},
     "encoding": {
       "y": {"field": "lower", "type": "quantitative", "scale": {"domain": [-0.046, 1.053], "nice": false, "zero": false}, "axis": {"title": "|VΦε| / Σ |VΦε|", "values": [0, 0.2, 0.4, 0.6, 0.8, 1.0], "format": ".1f"}},
       "y2": {"field": "upper"}
     }},
    {"mark": {"type": "line", "strokeWidth": 2},
     "encoding": {
       "y": {"field": "mean", "type": "quantitative"}
     }}
  ]
},
{
  "title": "Cancellation (signed) at Epoch = 40",
  "width": 873,
  "height": 460,
  "data": {"name": "bottom"},
  "encoding": {
    "x": {"field": "mode", "type": "quantitative", "scale": {"domain": [-9.3, 200.4], "nice": false, "zero": false}, "axis": {"title": "Modes", "values": [0, 25, 50, 75, 100, 125, 150, 175, 200], "labelFontSize": 16}},
    "color": {"field": "series", "type": "nominal", "sort": ["clean", "adv", "rand"], "scale": {"domain": ["clean", "adv", "rand"], "range": ["#1f77b4", "#ff7f0e", "#2ca02c"]}, "legend": {"title": null}}
  },
  "layer": [
    {"mark": {"type": "area", "opacity": 0.2},
     "encoding": {
       "y": {"field": "lower", "type": "quantitative", "scale": {"domain": [-0.026, 1.16], "nice": false, "zero": false}, "axis": {"title": "|Σ VΦε| / Σ |ΛΦε|", "values": [0, 0.2, 0.4, 0.6, 0.8, 1.0], "format": ".1f"}},
       "y2": {"field": "upper"}
     }},
    {"mark": {"type": "line", "strokeWidth": 2},
     "encoding": {
       "y": {"field": "mean", "type": "quantitative"}
     }}
  ]
}
],
"columns": 1,
"align": "none",
"center": true,
"spacing": 26,
"resolve": {"scale": {"x": "independent", "y": "independent", "color": "independent"}, "legend": {"color": "independent"}}
}
